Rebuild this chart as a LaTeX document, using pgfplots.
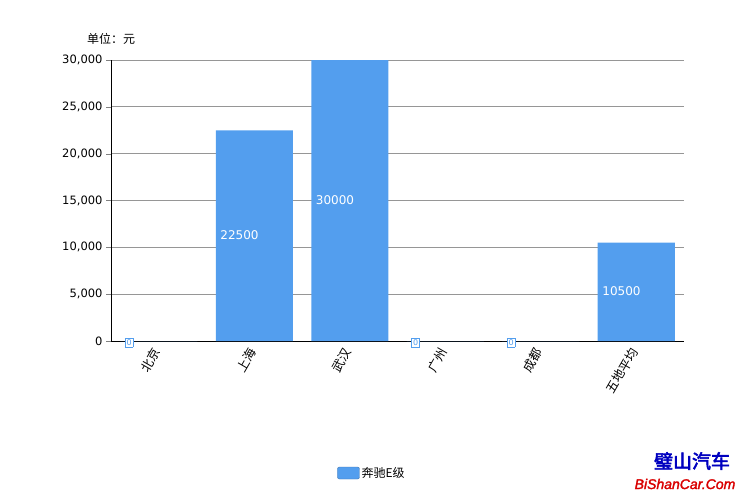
\documentclass[border=0pt]{standalone}
\usepackage{pgfplots}
\usepackage{pgfplotstable}
\pgfplotsset{compat=1.18}
\usepackage{fontspec}
\setmainfont{DejaVu Sans}
\newfontfamily\cjk{Noto Sans CJK SC}
\newfontfamily\cjkbold[FakeBold=3]{Noto Sans CJK SC}
\newfontfamily\wmfont[FakeBold=2]{Liberation Sans}
\definecolor{barblue}{RGB}{83,158,238}
\definecolor{gridgray}{RGB}{150,150,150}

% 单位：元
\pgfplotstableread{
x y
0 0
1 22500
2 30000
3 0
4 0
5 10500
}\prices

\newcommand\barlabel[1]{%
  \ifnum#1=0
    \raisebox{-4.5pt}[0pt][0pt]{\setlength{\fboxsep}{1.2pt}\fcolorbox{barblue}{white}{\textcolor{barblue}{\fontsize{8}{8}\selectfont 0}}}%
  \else
    \raisebox{-\dimexpr0.0046833pt*#1+4pt\relax}[0pt][0pt]{#1}%
  \fi}

\begin{document}
\begin{tikzpicture}[x=1pt,y=1pt]
\path[use as bounding box] (0,0) rectangle (744,496);
\begin{axis}[
  at={(111pt,155pt)}, anchor=south west,
  scale only axis, width=573pt, height=281pt,
  xmin=-0.5, xmax=5.5, ymin=0, ymax=30000,
  axis x line*=bottom, axis y line*=left,
  axis line style={black, line width=0.8pt},
  ymajorgrids, grid style={gridgray, line width=0.8pt},
  ytick={0,5000,...,30000}, scaled y ticks=false,
  yticklabel style={/pgf/number format/.cd, fixed, 1000 sep={,}, assume math mode=true},
  tick label style={font=\fontsize{11.5}{13}\selectfont},
  tick pos=left, tick align=outside, major tick length=5pt,
  xtick={0,...,5}, x tick style={draw=none},
  xticklabels={北京,上海,武汉,广州,成都,五地平均},
  xticklabel style={rotate=60, anchor=east, font=\cjk\fontsize{12.5}{12.5}\selectfont},
  ybar, bar width=77pt,
  legend style={at={(0.4555,-0.4698)}, anchor=center, draw=none,
    font=\cjk\fontsize{12}{12}\selectfont},
  legend image code/.code={\draw[fill=barblue, draw=barblue!75!black, rounded corners=2pt]
    (-2pt,-6pt) rectangle (20pt,6pt);},
]
\addplot[fill=barblue, draw=none,
  point meta=explicit symbolic,
  nodes near coords={\barlabel{\pgfplotspointmeta}},
  every node near coord/.append style={anchor=west, xshift=-34pt, inner sep=0pt,
    font=\fontsize{12}{12}\selectfont, text=white},
] table[x=x, y=y, meta=y] {\prices};
\addlegendentry{奔驰E级}
\end{axis}
\node[anchor=west, inner sep=0pt, font=\cjk\fontsize{12}{12}\selectfont] at (87,457) {单位：元};
\node[text=blue!75!black, font=\cjkbold\fontsize{19}{19}\selectfont] at (692,35) {璧山汽车};
\node[text=red!85!black, font=\wmfont\itshape\fontsize{14}{14}\selectfont] at (685,12) {BiShanCar.Com};
\end{tikzpicture}
\end{document}
